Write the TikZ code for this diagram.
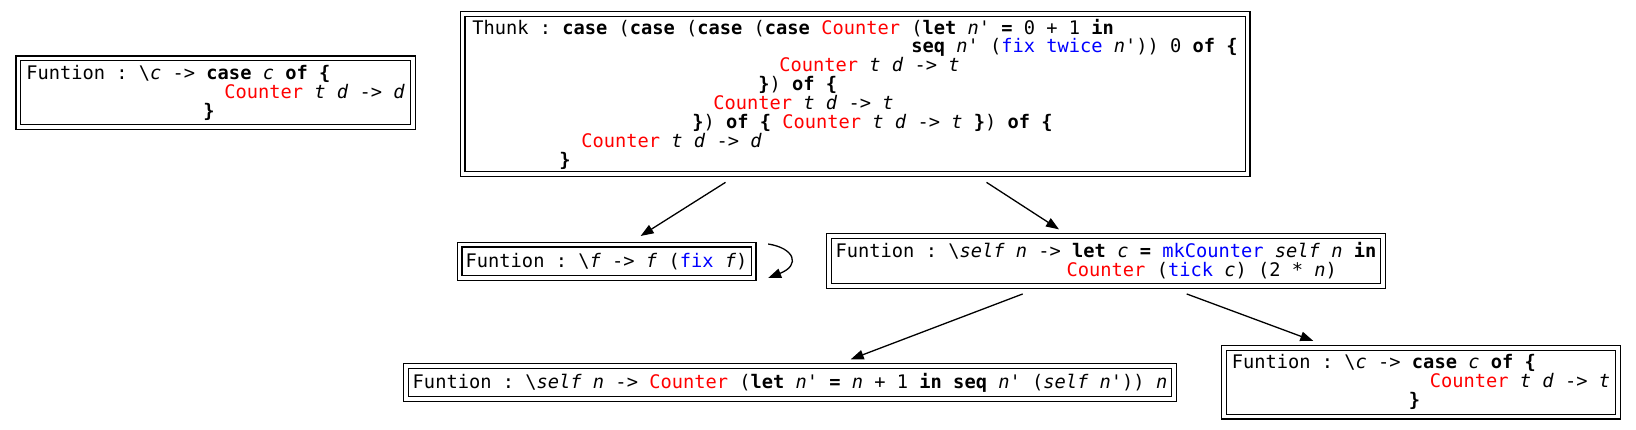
\documentclass[tikz,border=0pt]{standalone}
\usepackage{fontspec}
\setmonofont{DejaVu Sans Mono}
\usepackage{tikz}
\usetikzlibrary{arrows.meta}
\definecolor{conred}{RGB}{255,0,0}
\definecolor{primblue}{RGB}{0,0,255}
\newcommand{\kw}[1]{\textbf{#1}}
\newcommand{\con}[1]{\textcolor{conred}{#1}}
\newcommand{\prim}[1]{\textcolor{primblue}{#1}}
\newcommand{\var}[1]{\textit{#1}}
\newcommand{\ind}[1]{\hspace*{#1pt}}
\frenchspacing
\tikzstyle{term} = [rectangle, draw=black, double, double distance=3.4pt,
    line width=1.3pt, align=left, inner sep=0pt,
    font=\ttfamily\fontsize{18.7}{18.86}\selectfont]
\tikzstyle{edge} = [-{Triangle[length=13pt,width=9.5pt]}, line width=1.3pt]

\begin{document}
\begin{tikzpicture}[x=1pt,y=-1pt]
  \useasboundingbox (0,0) rectangle (1636,429);
  % Place nodes
  \node [term, minimum width=394.7pt, minimum height=68.7pt] (caseD) at (215.6,92.7)
  {Funtion : \textbackslash\var{c} -> \kw{case} \var{c} \kw{of} \kw{\{}\\
   \ind{198}\con{Counter} \var{t} \var{d} -> \var{d}\\
   \ind{177}\kw{\}}};
  \node [term, minimum width=785pt, minimum height=160pt] (thunk) at (855,94)
  {Thunk : \kw{case} (\kw{case} (\kw{case} (\kw{case} \con{Counter} (\kw{let} \var{n}' \kw{=} 0 + 1 \kw{in}\\
   \ind{439}\kw{seq} \var{n}' (\prim{fix} \prim{twice} \var{n}')) 0 \kw{of} \kw{\{}\\
   \ind{307}\con{Counter} \var{t} \var{d} -> \var{t}\\
   \ind{286}\kw{\}}) \kw{of} \kw{\{}\\
   \ind{241}\con{Counter} \var{t} \var{d} -> \var{t}\\
   \ind{220}\kw{\}}) \kw{of} \kw{\{} \con{Counter} \var{t} \var{d} -> \var{t} \kw{\}}) \kw{of} \kw{\{}\\
   \ind{109}\con{Counter} \var{t} \var{d} -> \var{d}\\
   \ind{87}\kw{\}}};
  \node [term, minimum width=293.8pt, minimum height=33.3pt] (fixF) at (606.6,261.3)
  {Funtion : \textbackslash\var{f} -> \var{f} (\prim{fix} \var{f})};
  \node [term, minimum width=554pt, minimum height=50pt] (mkC) at (1106,261)
  {Funtion : \textbackslash\var{self} \var{n} -> \kw{let} \var{c} \kw{=} \prim{mkCounter} \var{self} \var{n} \kw{in}\\
   \ind{231}\con{Counter} (\prim{tick} \var{c}) (2 * \var{n})};
  \node [term, minimum width=768pt, minimum height=33.2pt] (step) at (790,382.4)
  {Funtion : \textbackslash\var{self} \var{n} -> \con{Counter} (\kw{let} \var{n}' \kw{=} \var{n} + 1 \kw{in} \kw{seq} \var{n}' (\var{self} \var{n}')) \var{n}};
  \node [term, minimum width=394pt, minimum height=68.7pt] (caseT) at (1421,382.2)
  {Funtion : \textbackslash\var{c} -> \kw{case} \var{c} \kw{of} \kw{\{}\\
   \ind{198}\con{Counter} \var{t} \var{d} -> \var{t}\\
   \ind{177}\kw{\}}};
  % Draw edges
  \draw [edge] ([xshift=-129.5pt,yshift=-7.7pt]thunk.south) -- ([xshift=34pt,yshift=8pt]fixF.north);
  \draw [edge] ([xshift=131.5pt,yshift=-7.7pt]thunk.south) -- ([xshift=-47pt,yshift=6pt]mkC.north);
  \draw [edge] ([xshift=-83.3pt,yshift=-7.3pt]mkC.south) -- ([xshift=60.7pt,yshift=5.8pt]step.north);
  \draw [edge] ([xshift=80.7pt,yshift=-7.3pt]mkC.south) -- ([xshift=-107.7pt,yshift=6.3pt]caseT.north);
  \draw [edge] ([xshift=14pt,yshift=17.3pt]fixF.east) .. controls +(26pt,-4pt) and +(33pt,13pt) .. ([xshift=14pt,yshift=-16.7pt]fixF.east);
\end{tikzpicture}
\end{document}
